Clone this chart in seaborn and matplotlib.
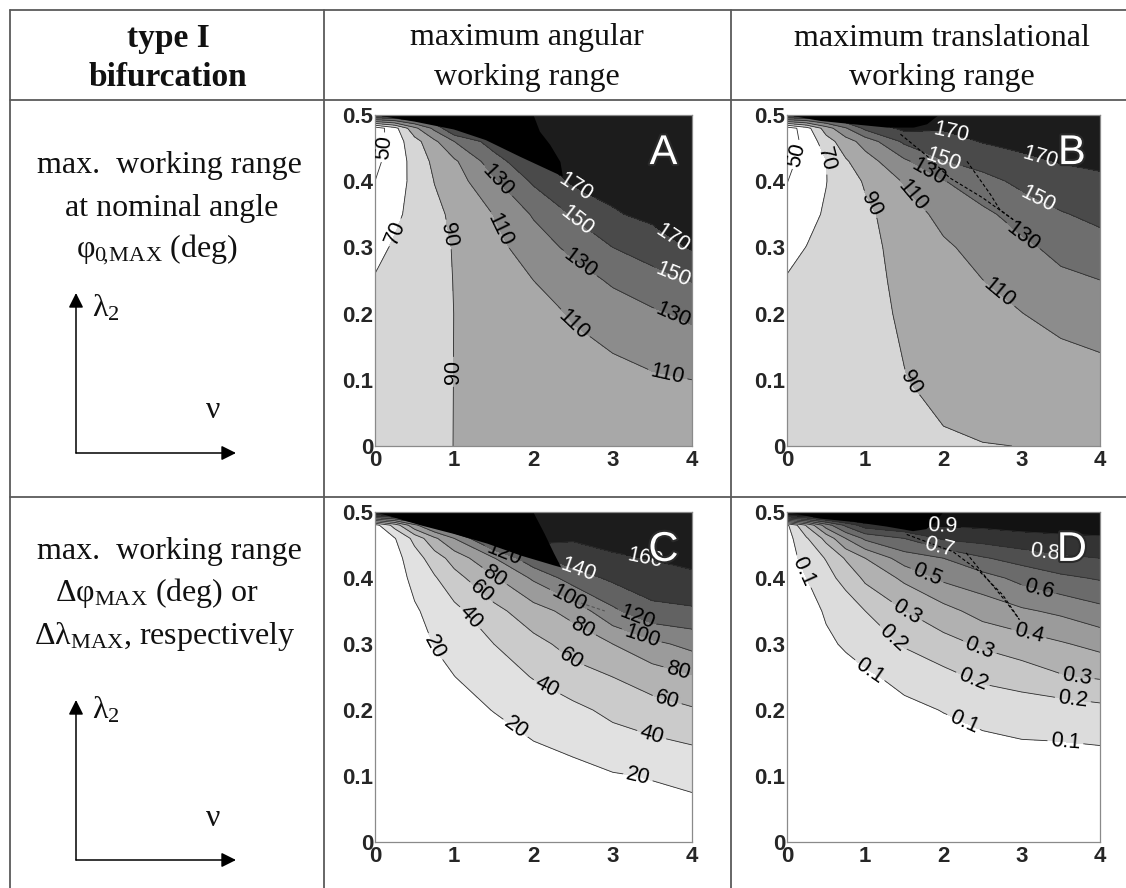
import numpy as np
import matplotlib
matplotlib.use("Agg")
import matplotlib.pyplot as plt
import seaborn as sns
from matplotlib.colors import ListedColormap, BoundaryNorm
from matplotlib.lines import Line2D
from matplotlib.patches import FancyArrowPatch
import matplotlib.patheffects as pe

# ---------------------------------------------------------------- data
# grid: stiffness ratio nu (x) and lambda_2 (y)
nu = [0, 0.25, 0.5, 0.75, 1, 1.5, 2, 2.5, 3, 3.5, 4]
lam = [0, 0.1, 0.2, 0.25, 0.3, 0.35, 0.4, 0.43, 0.46, 0.48, 0.5]

# each inner list: values along lam for one nu column
phi0_angular = [
    [84, 81, 76, 71.5, 64.3, 57, 50, 45, 40, 38, 180],
    [85.5, 83, 79, 76.5, 72.5, 66, 62, 60, 60, 63, 180],
    [87, 85.5, 83, 80.8, 78.2, 76.2, 75, 76.4, 82, 105, 180],
    [88.5, 87.8, 86.5, 85.4, 84.7, 85.3, 90.5, 94.8, 106, 135, 180],
    [90.1, 90.1, 90.1, 90.4, 91, 94, 100.6, 106.7, 130, 172, 185],
    [93, 94.5, 98, 100.5, 104, 110.5, 127, 141, 160, 175, 185],
    [95.5, 98, 104, 110, 120, 132, 153, 168, 175, 178, 180],
    [97.5, 102, 111.5, 120, 135, 152, 173, 176, 178, 179, 180],
    [99, 104, 119, 133, 150, 168, 177, 179, 180, 181, 182],
    [100.5, 107.5, 127, 143, 159, 175, 179, 181, 182, 183, 184],
    [102, 110, 134, 151, 172, 178, 181, 182, 183, 184, 185],
]
phi0_translational = [
    [80, 78, 75, 71.2, 65, 58, 49.5, 45, 40, 38, 180],
    [80.5, 79, 76.5, 73, 70.3, 65, 60, 57, 56, 62, 180],
    [81.7, 81.9, 80.5, 78.4, 75.5, 72, 69.5, 69.5, 80.8, 100, 180],
    [82.6, 83.8, 83.3, 82, 80.4, 79.1, 80.9, 87.8, 101, 128, 180],
    [83.4, 85.8, 86, 85.7, 85.3, 86.1, 92.2, 101.3, 118, 155, 180],
    [85.1, 89.6, 91.7, 93.3, 95.8, 100.1, 111.7, 126.4, 154, 175, 185],
    [88.5, 93.5, 100, 104, 107, 116, 129, 149, 163, 171.5, 178],
    [89.7, 95, 103.5, 109.8, 116.5, 125.5, 143, 158, 171, 176, 179],
    [90.1, 97.5, 109.7, 116.5, 125.5, 138, 155, 166, 175, 178, 180],
    [92, 100, 116, 125.5, 136, 148.5, 163, 171, 176, 178, 180],
    [94, 103, 120, 129.8, 142.5, 155, 167, 173, 177, 179, 181],
]
dphi_max = [
    [0, 0, 0, 0, 0, 0, 1, 3, 7, 12, 200],
    [0, 0, 0, 1, 2, 4, 8, 13, 19, 48, 200],
    [0, 1, 3, 6, 10, 17, 27, 31, 46, 95, 200],
    [1, 3, 8, 13, 21, 28, 38, 50, 76, 125, 200],
    [1.5, 5, 14, 19.7, 27, 35, 53, 68, 100, 150, 200],
    [2, 7, 20.5, 30, 40, 54, 77.5, 99, 150, 180, 200],
    [3, 11, 28, 41, 54, 72, 103, 135, 170, 185, 200],
    [4, 14, 35, 53, 67, 87, 130, 150, 162, 168, 172],
    [6, 18.5, 45, 60, 80, 116, 144, 157, 167, 170, 173],
    [7, 21, 52, 70, 95, 135, 151, 161, 168, 171, 174],
    [8, 24, 58, 78, 106, 137, 157, 164, 169, 172, 175],
]
dlam_max = [
    [0, 0, 0, 0, 0, 0.01, 0.02, 0.04, 0.06, 0.08, 1.2],
    [0, 0, 0.01, 0.02, 0.04, 0.065, 0.1, 0.15, 0.19, 0.31, 1.2],
    [0, 0.01, 0.03, 0.05, 0.085, 0.11, 0.17, 0.205, 0.33, 0.55, 1.2],
    [0, 0.02, 0.045, 0.07, 0.11, 0.15, 0.23, 0.31, 0.5, 0.72, 1.2],
    [0, 0.02, 0.055, 0.085, 0.14, 0.2, 0.32, 0.4, 0.62, 0.85, 1.2],
    [0, 0.03, 0.08, 0.125, 0.21, 0.298, 0.42, 0.55, 0.7, 0.9, 1.2],
    [0, 0.035, 0.103, 0.17, 0.265, 0.365, 0.52, 0.6, 0.815, 0.91, 1.0],
    [0, 0.045, 0.125, 0.22, 0.315, 0.44, 0.56, 0.69, 0.84, 0.92, 1.0],
    [0, 0.05, 0.14, 0.25, 0.35, 0.485, 0.63, 0.74, 0.87, 0.93, 1.0],
    [0, 0.045, 0.15, 0.29, 0.39, 0.52, 0.68, 0.78, 0.88, 0.94, 1.0],
    [0, 0.04, 0.17, 0.31, 0.43, 0.57, 0.71, 0.8, 0.89, 0.94, 1.0],
]

# contour levels
levels_phi0 = [50, 70, 90, 110, 130, 150, 170]
levels_dphi = [20, 40, 60, 80, 100, 120, 140, 160]
levels_dlam = [0.1, 0.2, 0.3, 0.4, 0.5, 0.6, 0.7, 0.8, 0.9]

# region without type I bifurcation (boundary, nu / lambda_2)
nofeas_A_nu = [0, 0.5, 1.0, 1.4, 1.83, 2.37, 2.34, 2.21, 2.08, 2.0]
nofeas_A_lam = [0.5, 0.49, 0.478, 0.462, 0.437, 0.407, 0.429, 0.455, 0.475, 0.5]
nofeas_B_nu = [0, 0.43, 0.85, 1.28, 1.62, 1.79, 1.92, 1.95]
nofeas_B_lam = [0.5, 0.491, 0.486, 0.481, 0.481, 0.486, 0.498, 0.5]
nofeas_C_nu = [0, 0.57, 0.99, 1.42, 1.84, 2.26, 2.35, 2.26, 2.14, 2.01, 2.0]
nofeas_C_lam = [0.5, 0.48, 0.467, 0.452, 0.434, 0.419, 0.416, 0.437, 0.467, 0.497, 0.5]
nofeas_D_nu = [0, 0.42, 0.85, 1.27, 1.61, 1.78, 1.9, 2.0]
nofeas_D_lam = [0.5, 0.49, 0.485, 0.478, 0.471, 0.474, 0.485, 0.5]

# dashed boundary curves
dash_B1_nu = [1.45, 1.8, 2.08, 2.5, 2.89]
dash_B1_lam = [0.471, 0.437, 0.405, 0.375, 0.342]
dash_B2_nu = [2.3, 2.42, 2.6, 2.72, 2.89]
dash_B2_lam = [0.43, 0.41, 0.38, 0.357, 0.342]
dash_C_nu = [2.6, 2.75, 2.9]
dash_C_lam = [0.362, 0.356, 0.35]
dash_D1_nu = [1.53, 2.12, 2.46, 2.76, 2.97]
dash_D1_lam = [0.466, 0.44, 0.41, 0.374, 0.337]
dash_D2_nu = [2.29, 2.55, 2.8, 2.97]
dash_D2_lam = [0.438, 0.40, 0.364, 0.337]

x_ticks = [0, 1, 2, 3, 4]
x_ticklabels = ["0", "1", "2", "3", "4"]
y_ticks = [0, 0.1, 0.2, 0.3, 0.4, 0.5]
y_ticklabels = ["0", "0.1", "0.2", "0.3", "0.4", "0.5"]

# ---------------------------------------------------------------- style
sns.set_theme(style="white")
plt.rcParams["font.family"] = ["Liberation Sans", "DejaVu Sans"]
# upright serif symbols in the table text
plt.rcParams["mathtext.fontset"] = "custom"
plt.rcParams["mathtext.rm"] = "Liberation Serif"
plt.rcParams["mathtext.it"] = "Liberation Serif"
plt.rcParams["mathtext.bf"] = "Liberation Serif:bold"

W, H = 1126, 888
fig = plt.figure(figsize=(W / 100, H / 100), dpi=100)
fig.patch.set_facecolor("white")

SERIF = "Liberation Serif"
LINE_C = "#5a5a5a"


def px_axes(x0, y0, x1, y1):
    return fig.add_axes([x0 / W, 1 - y1 / H, (x1 - x0) / W, (y1 - y0) / H])


def ftext(x, y, s, size=23, **kw):
    fig.text(x / W, 1 - y / H, s, ha=kw.pop("ha", "center"), va="center",
             family=SERIF, fontsize=size, color="#111111", **kw)


def fline(x0, y0, x1, y1):
    fig.add_artist(Line2D([x0 / W, x1 / W], [1 - y0 / H, 1 - y1 / H],
                          transform=fig.transFigure, color=LINE_C, lw=1.3))


def farrow(x0, y0, x1, y1):
    fig.add_artist(FancyArrowPatch((x0 / W, 1 - y0 / H), (x1 / W, 1 - y1 / H),
                                   transform=fig.transFigure, arrowstyle="-|>",
                                   mutation_scale=22, lw=1.1, color="black",
                                   shrinkA=0, shrinkB=0))


def draw_panel(ax, cols, levels, band_colors, label_pos, white_levels, fmt,
               region, dashes, letter):
    Z = np.array(cols, dtype=float).T
    bounds = [-1e4] + list(levels) + [1e4]
    cmap = ListedColormap(band_colors)
    norm = BoundaryNorm(bounds, cmap.N)
    ax.contourf(nu, lam, Z, levels=bounds, cmap=cmap, norm=norm, zorder=1)
    ax.set_xlim(0, 4)
    ax.set_ylim(0, 0.5)
    # one line set per level so each label lands on its own level
    for lev in levels:
        cs = ax.contour(nu, lam, Z, levels=[lev], colors="#2e2e2e",
                        linewidths=0.6, zorder=2)
        pts = label_pos.get(lev, [])
        if pts:
            cs.clabel(manual=pts, inline=True, inline_spacing=3, fmt=fmt,
                      fontsize=15.5,
                      colors="white" if lev in white_levels else "black")
    ax.fill(region[0], region[1], color="black", lw=0, zorder=2.5)
    for dx, dy, dc in dashes:
        ax.plot(dx, dy, color=dc, lw=0.8, ls=(0, (3, 2)), zorder=2.6)
    ax.set_xlim(0, 4)
    ax.set_ylim(0, 0.5)
    ax.set_xticks(x_ticks)
    ax.set_xticklabels(x_ticklabels, fontsize=16, fontweight="bold")
    ax.set_yticks(y_ticks)
    ax.set_yticklabels(y_ticklabels, fontsize=16, fontweight="bold")
    ax.tick_params(axis="y", length=0, pad=1)
    ax.tick_params(axis="x", length=0, pad=3)
    for sp in ax.spines.values():
        sp.set_color("#8a8a8a")
        sp.set_linewidth(0.9)
    ax.text(0.91, 0.885, letter, transform=ax.transAxes, ha="center",
            va="center", fontsize=30, color="white", zorder=6,
            path_effects=[pe.withStroke(linewidth=3, foreground="#2a2a2a")])


# ---------------------------------------------------------------- table frame
fline(10, 10, W, 10)
fline(10, 100, W, 100)
fline(10, 497, W, 497)
fline(10, 10, 10, H)
fline(324, 10, 324, H)
fline(731, 10, 731, H)

ftext(168, 38, "type I", size=24, fontweight="bold")
ftext(168, 77, "bifurcation", size=24, fontweight="bold")
ftext(527, 38, "maximum angular")
ftext(527, 77, "working range")
ftext(942, 38, "maximum translational")
ftext(942, 77, "working range")

ftext(169, 165, "max.  working range")
ftext(172, 208, "at nominal angle")
ftext(157, 250, r"$\varphi_{0\!,\!\mathrm{MAX}}$ (deg)")
ftext(169, 551, "max.  working range")
ftext(157, 593, r"$\Delta\varphi_{\mathrm{MAX}}$ (deg) or")
ftext(165, 636, r"$\Delta\lambda_{\mathrm{MAX}}$, respectively")

for (ay, ly, ny) in [(453, 308, 410), (860, 710, 818)]:
    farrow(76, ay, 76, ay - 160)
    farrow(76, ay, 236, ay)
    ftext(92, ly, r"$\lambda_2$", ha="left")
    ftext(213, ny, r"$\nu$")

# ---------------------------------------------------------------- panels
gray_phi0 = ["#ffffff", "#ffffff", "#d6d6d6", "#a8a8a8", "#8c8c8c",
             "#6e6e6e", "#4a4a4a", "#1c1c1c"]
gray_dphi = ["#ffffff", "#e1e1e1", "#cbcbcb", "#b3b3b3", "#9b9b9b",
             "#838383", "#626262", "#3a3a3a", "#1c1c1c"]
gray_dlam = ["#ffffff", "#dcdcdc", "#c7c7c7", "#b1b1b1", "#9b9b9b",
             "#858585", "#6b6b6b", "#4f4f4f", "#333333", "#121212"]

axA = px_axes(375, 115, 692, 446)
draw_panel(axA, phi0_angular, levels_phi0, gray_phi0,
           {50: [(0.17, 0.45)], 70: [(0.23, 0.324)],
            90: [(0.905, 0.319), (0.99, 0.112)],
            110: [(1.54, 0.324), (2.5, 0.182), (3.7, 0.112)],
            130: [(1.56, 0.402), (2.59, 0.276), (3.75, 0.193)],
            150: [(2.55, 0.341), (3.75, 0.256)],
            170: [(2.5, 0.384), (3.7, 0.303)]},
           {150, 170}, "%d", (nofeas_A_nu, nofeas_A_lam), [], "A")

axB = px_axes(787, 115, 1100, 446)
draw_panel(axB, phi0_translational, levels_phi0, gray_phi0,
           {50: [(0.13, 0.44)], 70: [(0.45, 0.43)],
            90: [(1.07, 0.365), (1.54, 0.092)],
            110: [(1.58, 0.375), (2.69, 0.228)],
            130: [(1.79, 0.41), (3.03, 0.319)],
            150: [(2.0, 0.435), (3.2, 0.37)],
            170: [(2.09, 0.47), (3.24, 0.438)]},
           {150, 170}, "%d", (nofeas_B_nu, nofeas_B_lam),
           [(dash_B1_nu, dash_B1_lam, "black"), (dash_B2_nu, dash_B2_lam, "black")],
           "B")

axC = px_axes(375, 512, 692, 842)
draw_panel(axC, dphi_max, levels_dphi, gray_dphi,
           {20: [(0.72, 0.294), (1.71, 0.162), (3.3, 0.091)],
            40: [(1.16, 0.335), (2.14, 0.228), (3.49, 0.162)],
            60: [(1.33, 0.377), (2.48, 0.279), (3.68, 0.213)],
            80: [(1.5, 0.401), (2.6, 0.32), (3.81, 0.254)],
            100: [(2.43, 0.365), (3.36, 0.31)],
            120: [(1.63, 0.437), (3.32, 0.345)],
            140: [(2.56, 0.409)],
            160: [(3.41, 0.429)]},
           {140, 160}, "%d", (nofeas_C_nu, nofeas_C_lam),
           [(dash_C_nu, dash_C_lam, "#555555")], "C")

axD = px_axes(787, 512, 1100, 842)
draw_panel(axD, dlam_max, levels_dlam, gray_dlam,
           {0.1: [(0.21, 0.41), (1.02, 0.253), (2.27, 0.185), (3.56, 0.154)],
            0.2: [(1.31, 0.304), (2.38, 0.248), (3.65, 0.213)],
            0.3: [(1.53, 0.349), (2.46, 0.294), (3.71, 0.256)],
            0.4: [(3.08, 0.311)],
            0.5: [(1.76, 0.395)],
            0.6: [(3.2, 0.374)],
            0.7: [(1.91, 0.433)],
            0.8: [(3.29, 0.433)],
            0.9: [(1.99, 0.476)]},
           {0.7, 0.8, 0.9}, "%.1f", (nofeas_D_nu, nofeas_D_lam),
           [(dash_D1_nu, dash_D1_lam, "black"), (dash_D2_nu, dash_D2_lam, "black")],
           "D")

fig.savefig("out.png", dpi=100, facecolor="white")
